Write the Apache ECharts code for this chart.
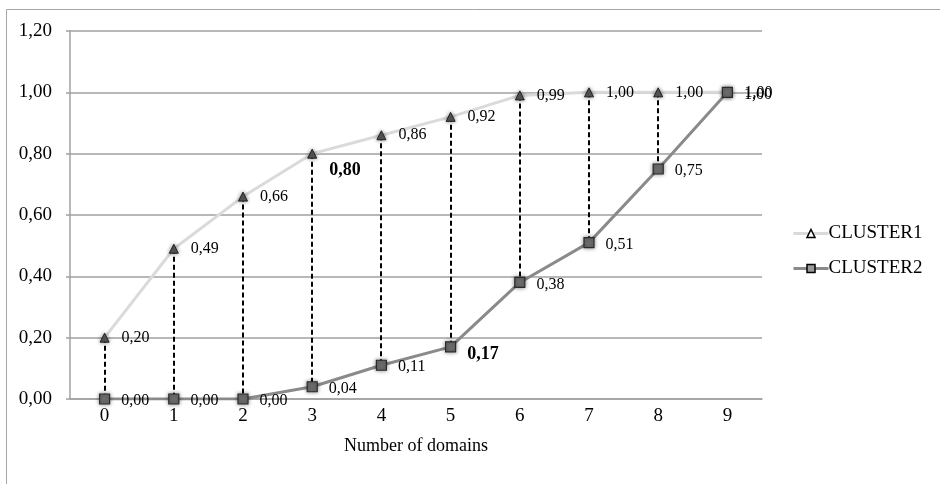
<!DOCTYPE html>
<html>
<head>
<meta charset="utf-8">
<script src="https://cdn.jsdelivr.net/npm/echarts@6/dist/echarts.min.js"></script>
<style>
  html, body { margin: 0; padding: 0; background: #fff; }
  #chart { width: 940px; height: 484px; }
</style>
</head>
<body>
<div id="chart"></div>
<script>
// Share of items covered vs. number of domains, two clusters
const categories = ['0', '1', '2', '3', '4', '5', '6', '7', '8', '9'];
const cluster1 = [0.20, 0.49, 0.66, 0.80, 0.86, 0.92, 0.99, 1.00, 1.00, 1.00];
const cluster2 = [0.00, 0.00, 0.00, 0.04, 0.11, 0.17, 0.38, 0.51, 0.75, 1.00];
const yTicks = [0, 0.2, 0.4, 0.6, 0.8, 1.0, 1.2];

const FONT = '"Liberation Serif", "Times New Roman", serif';
const fmt = v => v.toFixed(2).replace('.', ',');

// Highlighted labels (bold, nudged down)
const highlight1 = { 3: [0, 17] };
const highlight2 = { 5: [0, 7] };

function seriesData(values, highlight, baseOffset) {
  return values.map((v, i) => {
    if (highlight[i]) {
      return {
        value: v,
        label: { fontWeight: 'bold', fontSize: 18, offset: highlight[i] }
      };
    }
    return { value: v, label: { offset: baseOffset } };
  });
}

const chart = echarts.init(document.getElementById('chart'), null, { renderer: 'canvas' });

const option = {
  animation: false,
  textStyle: { fontFamily: FONT },
  graphic: [{
    type: 'rect',
    shape: { x: 6.5, y: 9.5, width: 1000, height: 1000 },
    style: { fill: 'none', stroke: '#a6a6a6', lineWidth: 1 },
    silent: true,
    z: -10
  }],
  grid: { left: 70, right: 178, top: 31, bottom: 85 },
  legend: {
    orient: 'vertical',
    left: 792,
    top: 224,
    padding: 0,
    itemWidth: 35,
    itemHeight: 10,
    itemGap: 16,
    textStyle: { fontFamily: FONT, fontSize: 19, color: '#000', padding: [0, 0, 0, -5] },
    data: [
      { name: 'CLUSTER1',
        lineStyle: { width: 3 },
        itemStyle: { color: '#fff', borderColor: '#000', borderWidth: 1.5, shadowBlur: 0 } },
      { name: 'CLUSTER2',
        lineStyle: { width: 3 },
        itemStyle: { color: '#9a9a9a', borderColor: '#000', borderWidth: 1.5, shadowBlur: 0 } }
    ]
  },
  xAxis: {
    type: 'category',
    data: categories,
    boundaryGap: true,
    name: 'Number of domains',
    nameLocation: 'middle',
    nameGap: 38,
    nameTextStyle: { fontFamily: FONT, fontSize: 18, color: '#000' },
    axisLine: { lineStyle: { color: '#a0a0a0', width: 1.5 } },
    axisTick: { show: false },
    axisLabel: { fontFamily: FONT, fontSize: 19, color: '#000', margin: 8 }
  },
  yAxis: {
    type: 'value',
    min: 0,
    max: 1.2,
    interval: 0.2,
    axisLine: { show: true, lineStyle: { color: '#a0a0a0', width: 1.5 } },
    axisTick: { show: true, length: 4, lineStyle: { color: '#a0a0a0', width: 1.5 } },
    splitLine: { lineStyle: { color: '#a0a0a0', width: 1.5 } },
    axisLabel: {
      fontFamily: FONT, fontSize: 19, color: '#000', margin: 18,
      formatter: v => fmt(v)
    }
  },
  series: [
    {
      // dashed drop lines between the two clusters
      type: 'custom',
      name: 'drop',
      data: categories.map((c, i) => [i, cluster1[i], cluster2[i]]),
      renderItem: (params, api) => {
        const top = api.coord([api.value(0), api.value(1)]);
        const bot = api.coord([api.value(0), api.value(2)]);
        const x = Math.round(top[0]);
        return {
          type: 'line',
          shape: { x1: x, y1: top[1], x2: x, y2: bot[1] },
          style: { stroke: '#000', lineWidth: 2, lineDash: [5, 3] }
        };
      },
      z: 1,
      silent: true
    },
    {
      name: 'CLUSTER1',
      type: 'line',
      data: seriesData(cluster1, highlight1, [0, 0]),
      symbol: 'triangle',
      symbolSize: [9, 9],
      showAllSymbol: true,
      lineStyle: { color: '#dadada', width: 3 },
      itemStyle: {
        color: '#5a5a5a', borderColor: '#222', borderWidth: 1,
        shadowBlur: 4, shadowColor: 'rgba(0,0,0,0.45)'
      },
      label: {
        show: true, position: 'right', distance: 12,
        fontFamily: FONT, fontSize: 16, color: '#000',
        formatter: p => fmt(p.value)
      },
      z: 3
    },
    {
      name: 'CLUSTER2',
      type: 'line',
      data: seriesData(cluster2, highlight2, [0, 2]),
      symbol: 'rect',
      symbolSize: [10, 10],
      showAllSymbol: true,
      lineStyle: { color: '#8a8a8a', width: 3 },
      itemStyle: {
        color: '#6e6e6e', borderColor: '#2a2a2a', borderWidth: 1.2,
        shadowBlur: 4, shadowColor: 'rgba(0,0,0,0.45)'
      },
      label: {
        show: true, position: 'right', distance: 11,
        fontFamily: FONT, fontSize: 16, color: '#000',
        formatter: p => fmt(p.value)
      },
      z: 4
    }
  ]
};

chart.setOption(option);
</script>
</body>
</html>
